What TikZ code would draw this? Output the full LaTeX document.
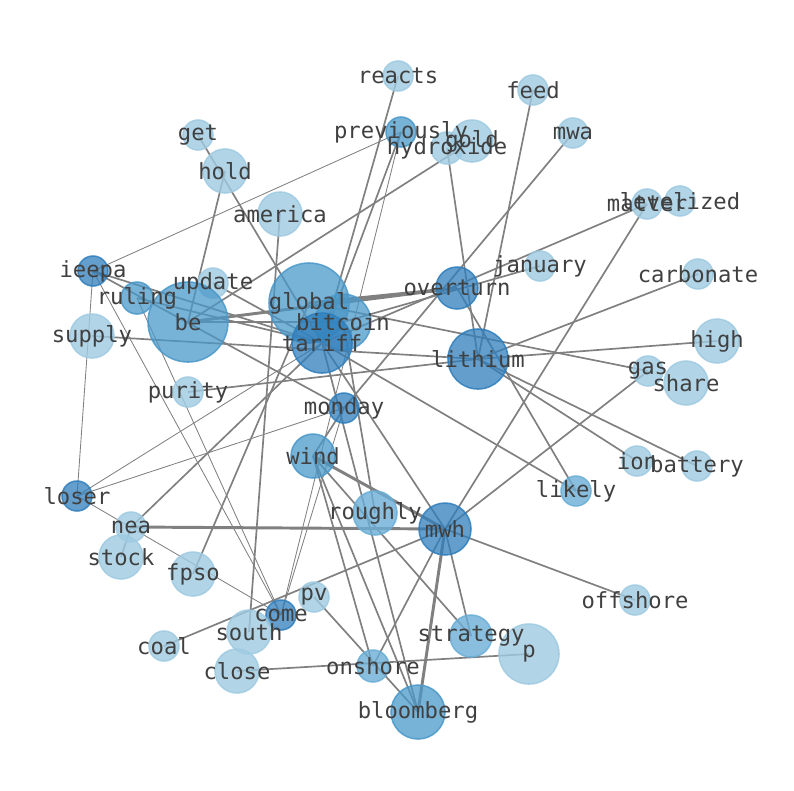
\documentclass[tikz,border=0pt]{standalone}
\usepackage{fontspec}
\setmonofont{DejaVu Sans Mono}
\usetikzlibrary{backgrounds}
\definecolor{blt}{HTML}{9ECAE1}
\definecolor{bmd}{HTML}{6BAED6}
\definecolor{bdk}{HTML}{4A98C9}
\definecolor{bdd}{HTML}{2F7EBC}
\begin{document}
\begin{tikzpicture}[x=0.025cm,y=-0.025cm,
  word/.style={circle,inner sep=0pt,line width=1.1pt},
  lt/.style={word,fill=blt,draw=blt,fill opacity=0.8,draw opacity=0.85},
  md/.style={word,fill=bmd,draw=bmd,fill opacity=0.8,draw opacity=0.85},
  dk/.style={word,fill=bdk,draw=bdk,fill opacity=0.75,draw opacity=0.85},
  dd/.style={word,fill=bdd,draw=bdd,fill opacity=0.75,draw opacity=0.85},
  lbl/.style={font=\ttfamily\fontsize{15.8}{18}\selectfont,text=black!75,inner sep=0pt},
  weak/.style={draw=black!50,line width=0.6pt},
  link/.style={draw=black!50,line width=1.2pt},
  strong/.style={draw=black!50,line width=2.1pt}]
\useasboundingbox (0,0) rectangle (794,790);

\node[lt,minimum size=0.75cm] (reacts) at (398,76) {};
\node[lt,minimum size=0.75cm] (feed) at (533,90) {};
\node[dk,minimum size=0.75cm] (previously) at (401,132) {};
\node[lt,minimum size=1.05cm] (gold) at (472,141) {};
\node[lt,minimum size=0.8cm] (hydroxide) at (447,148) {};
\node[lt,minimum size=0.75cm] (mwa) at (573,133) {};
\node[lt,minimum size=0.75cm] (get) at (198,135) {};
\node[lt,minimum size=1.1cm] (hold) at (225,171) {};
\node[lt,minimum size=1.1cm] (america) at (280,214) {};
\node[lt,minimum size=0.75cm] (matter) at (647,204) {};
\node[lt,minimum size=0.75cm] (levelized) at (680,201) {};
\node[lt,minimum size=0.75cm] (january) at (540,266) {};
\node[lt,minimum size=0.75cm] (carbonate) at (698,274) {};
\node[dd,minimum size=0.75cm] (ieepa) at (93,271) {};
\node[dk,minimum size=0.8cm] (ruling) at (137,298) {};
\node[lt,minimum size=0.75cm] (update) at (213,283) {};
\node[dk,minimum size=2cm] (global) at (309,303) {};
\node[dk,minimum size=2cm] (be) at (188,322) {};
\node[dk,minimum size=1.4cm] (bitcoin) at (343,322) {};
\node[dd,minimum size=1.5cm] (tariff) at (322,343) {};
\node[dd,minimum size=1.05cm] (overturn) at (457,288) {};
\node[lt,minimum size=1.1cm] (supply) at (92,336) {};
\node[dd,minimum size=1.5cm] (lithium) at (478,359) {};
\node[lt,minimum size=1.1cm] (high) at (717,341) {};
\node[lt,minimum size=0.75cm] (gas) at (648,371) {};
\node[lt,minimum size=1.1cm] (share) at (686,383) {};
\node[lt,minimum size=0.75cm] (purity) at (188,392) {};
\node[dd,minimum size=0.75cm] (monday) at (344,408) {};
\node[dk,minimum size=1.1cm] (wind) at (313,456) {};
\node[lt,minimum size=0.75cm] (ion) at (637,461) {};
\node[lt,minimum size=0.75cm] (battery) at (697,466) {};
\node[md,minimum size=0.75cm] (likely) at (576,491) {};
\node[dd,minimum size=0.75cm] (loser) at (77,496) {};
\node[md,minimum size=1.1cm] (roughly) at (375,513) {};
\node[dd,minimum size=1.3cm] (mwh) at (445,529) {};
\node[lt,minimum size=0.75cm] (nea) at (131,527) {};
\node[lt,minimum size=1.1cm] (stock) at (121,557) {};
\node[lt,minimum size=1.1cm] (fpso) at (193,574) {};
\node[lt,minimum size=0.75cm] (pv) at (314,597) {};
\node[lt,minimum size=0.75cm] (offshore) at (635,600) {};
\node[dd,minimum size=0.75cm] (come) at (281,615) {};
\node[lt,minimum size=1.1cm] (south) at (249,632) {};
\node[md,minimum size=1.05cm] (strategy) at (471,636) {};
\node[lt,minimum size=1.5cm] (p) at (529,654) {};
\node[lt,minimum size=0.75cm] (coal) at (164,646) {};
\node[lt,minimum size=1.1cm] (close) at (237,671) {};
\node[md,minimum size=0.8cm] (onshore) at (373,666) {};
\node[dk,minimum size=1.35cm] (bloomberg) at (418,712) {};

\begin{scope}[on background layer]
\draw[link] (reacts.center) -- (tariff.center);
\draw[link] (previously.center) -- (tariff.center);
\draw[weak] (previously.center) -- (come.center);
\draw[weak] (ieepa.center) -- (previously.center);
\draw[link] (hydroxide.center) -- (lithium.center);
\draw[link] (gold.center) -- (be.center);
\draw[link] (feed.center) -- (lithium.center);
\draw[link] (mwa.center) -- (monday.center);
\draw[link] (get.center) -- (tariff.center);
\draw[link] (hold.center) -- (be.center);
\draw[link] (america.center) -- (south.center);
\draw[link] (matter.center) -- (tariff.center);
\draw[link] (matter.center) -- (mwh.center);
\draw[link] (january.center) -- (bitcoin.center);
\draw[link] (carbonate.center) -- (lithium.center);
\draw[link] (high.center) -- (lithium.center);
\draw[link] (global.center) -- (gas.center);
\draw[link] (lithium.center) -- (ion.center);
\draw[link] (lithium.center) -- (battery.center);
\draw[link] (overturn.center) -- (likely.center);
\draw[link] (tariff.center) -- (likely.center);
\draw[link] (supply.center) -- (lithium.center);
\draw[link] (purity.center) -- (lithium.center);
\draw[link] (ieepa.center) -- (monday.center);
\draw[link] (ieepa.center) -- (tariff.center);
\draw[weak] (ieepa.center) -- (come.center);
\draw[weak] (ruling.center) -- (come.center);
\draw[weak] (ieepa.center) -- (loser.center);
\draw[weak] (loser.center) -- (tariff.center);
\draw[weak] (loser.center) -- (monday.center);
\draw[weak] (loser.center) -- (come.center);
\draw[strong] (nea.center) -- (mwh.center);
\draw[link] (nea.center) -- (stock.center);
\draw[link] (nea.center) -- (tariff.center);
\draw[link] (fpso.center) -- (global.center);
\draw[link] (coal.center) -- (mwh.center);
\draw[link] (close.center) -- (p.center);
\draw[weak] (come.center) -- (monday.center);
\draw[link] (pv.center) -- (bloomberg.center);
\draw[strong] (wind.center) -- (mwh.center);
\draw[link] (wind.center) -- (strategy.center);
\draw[link] (bitcoin.center) -- (roughly.center);
\draw[link] (tariff.center) -- (mwh.center);
\draw[link] (wind.center) -- (onshore.center);
\draw[link] (wind.center) -- (bloomberg.center);
\draw[link] (wind.center) -- (monday.center);
\draw[link] (mwh.center) -- (onshore.center);
\draw[strong] (mwh.center) -- (bloomberg.center);
\draw[link] (mwh.center) -- (strategy.center);
\draw[link] (mwh.center) -- (offshore.center);
\draw[link] (mwh.center) -- (gas.center);
\draw[strong] (be.center) -- (overturn.center);
\draw[strong] (global.center) -- (overturn.center);
\draw[link] (ruling.center) -- (tariff.center);
\draw[link] (be.center) -- (bitcoin.center);
\draw[link] (update.center) -- (tariff.center);
\draw[link] (tariff.center) -- (bloomberg.center);
\end{scope}

\node[lbl] (l-reacts) at (reacts) {reacts};
\node[lbl] (l-feed) at (feed) {feed};
\node[lbl] (l-previously) at (previously) {previously};
\node[lbl] (l-gold) at (gold) {gold};
\node[lbl] (l-hydroxide) at (hydroxide) {hydroxide};
\node[lbl] (l-mwa) at (mwa) {mwa};
\node[lbl] (l-get) at (get) {get};
\node[lbl] (l-hold) at (hold) {hold};
\node[lbl] (l-america) at (america) {america};
\node[lbl] (l-matter) at (matter) {matter};
\node[lbl] (l-levelized) at (levelized) {levelized};
\node[lbl] (l-january) at (january) {january};
\node[lbl] (l-carbonate) at (carbonate) {carbonate};
\node[lbl] (l-ieepa) at (ieepa) {ieepa};
\node[lbl] (l-ruling) at (ruling) {ruling};
\node[lbl] (l-update) at (update) {update};
\node[lbl] (l-global) at (global) {global};
\node[lbl] (l-be) at (be) {be};
\node[lbl] (l-bitcoin) at (bitcoin) {bitcoin};
\node[lbl] (l-tariff) at (tariff) {tariff};
\node[lbl] (l-overturn) at (overturn) {overturn};
\node[lbl] (l-supply) at (supply) {supply};
\node[lbl] (l-lithium) at (lithium) {lithium};
\node[lbl] (l-high) at (high) {high};
\node[lbl] (l-gas) at (gas) {gas};
\node[lbl] (l-share) at (share) {share};
\node[lbl] (l-purity) at (purity) {purity};
\node[lbl] (l-monday) at (monday) {monday};
\node[lbl] (l-wind) at (wind) {wind};
\node[lbl] (l-ion) at (ion) {ion};
\node[lbl] (l-battery) at (battery) {battery};
\node[lbl] (l-likely) at (likely) {likely};
\node[lbl] (l-loser) at (loser) {loser};
\node[lbl] (l-roughly) at (roughly) {roughly};
\node[lbl] (l-mwh) at (mwh) {mwh};
\node[lbl] (l-nea) at (nea) {nea};
\node[lbl] (l-stock) at (stock) {stock};
\node[lbl] (l-fpso) at (fpso) {fpso};
\node[lbl] (l-pv) at (pv) {pv};
\node[lbl] (l-offshore) at (offshore) {offshore};
\node[lbl] (l-come) at (come) {come};
\node[lbl] (l-south) at (south) {south};
\node[lbl] (l-strategy) at (strategy) {strategy};
\node[lbl] (l-p) at (p) {p};
\node[lbl] (l-coal) at (coal) {coal};
\node[lbl] (l-close) at (close) {close};
\node[lbl] (l-onshore) at (onshore) {onshore};
\node[lbl] (l-bloomberg) at (bloomberg) {bloomberg};
\end{tikzpicture}
\end{document}
